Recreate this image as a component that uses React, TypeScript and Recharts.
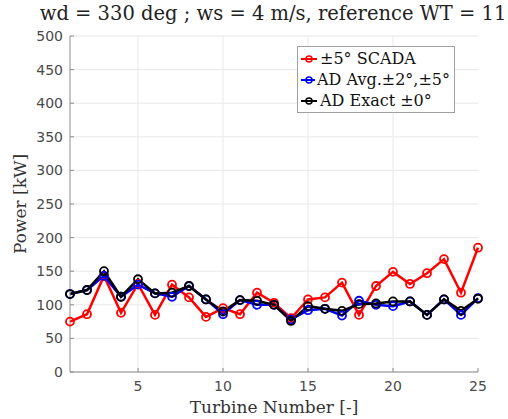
import { LineChart, Line, XAxis, YAxis, CartesianGrid, ReferenceLine, Label } from "recharts";

const turbines = [1, 2, 3, 4, 5, 6, 7, 8, 9, 10, 11, 12, 13, 14, 15, 16, 17, 18, 19, 20, 21, 22, 23, 24, 25];
const scadaPower = [75, 86, 143, 88, 131, 85, 130, 111, 82, 95, 86, 118, 103, 80, 108, 111, 133, 85, 128, 149, 131, 147, 168, 118, 185];
const adAvgPower = [116, 122, 143, 112, 130, 117, 112, 128, 108, 86, 107, 100, 100, 78, 92, 94, 84, 106, 100, 98, 105, 85, 108, 85, 110];
const adExactPower = [116, 122, 150, 112, 138, 117, 118, 128, 108, 90, 107, 106, 100, 76, 98, 94, 91, 101, 102, 105, 105, 85, 108, 91, 109];

const xTicks = [5, 10, 15, 20, 25];
const xGrid = [5, 10, 15, 20];
const yTicks = [0, 50, 100, 150, 200, 250, 300, 350, 400, 450, 500];

const series = [
  { key: "scada", name: "±5° SCADA", color: "#ff0000" },
  { key: "avg", name: "AD Avg.±2°,±5°", color: "#0000ff" },
  { key: "exact", name: "AD Exact ±0°", color: "#000000" },
];

const data = turbines.map((t, i) => ({
  turbine: t,
  scada: scadaPower[i],
  avg: adAvgPower[i],
  exact: adExactPower[i],
}));

const serif = "'DejaVu Serif', serif";
const sans = "'DejaVu Sans', sans-serif";
const axisGray = "#8c8c8c";
const gridGray = "#e8e8e8";

// tick labels with small inward tick marks
const YTick = (props: any) => {
  const { x, y, payload } = props;
  return (
    <g>
      <line x1={x + 7} x2={x + 11} y1={y} y2={y} stroke={axisGray} />
      <text x={x} y={y} dy={5} textAnchor="end" fontSize={14} fontFamily={sans} fill="#4a4a4a">
        {payload.value}
      </text>
    </g>
  );
};

const XTick = (props: any) => {
  const { x, y, payload } = props;
  return (
    <g>
      <line x1={x} x2={x} y1={y - 9} y2={y - 13} stroke={axisGray} />
      <text x={x} y={y} dy={10} textAnchor="middle" fontSize={14} fontFamily={sans} fill="#4a4a4a">
        {payload.value}
      </text>
    </g>
  );
};

const YLabel = (props: any) => {
  const { viewBox } = props;
  const cx = 20;
  const cy = viewBox.y + viewBox.height / 2;
  return (
    <text x={cx} y={cy} transform={`rotate(-90 ${cx} ${cy})`} textAnchor="middle" dominantBaseline="central" fontSize={17} fontFamily={serif} fill="#333">
      Power [kW]
    </text>
  );
};

const LegendBox = () => (
  <div
    style={{
      position: "absolute",
      left: 297,
      top: 46,
      width: 158,
      boxSizing: "border-box",
      background: "#fff",
      border: "1px solid #a0a0a0",
      padding: "1px 4px 1px 2px",
      fontFamily: serif,
      fontSize: 16,
      color: "#111",
    }}
  >
    {series.map((s) => (
      <div key={s.key} style={{ display: "flex", alignItems: "center", height: 21, whiteSpace: "nowrap" }}>
        <svg width={18} height={10} style={{ marginRight: 2 }}>
          <line x1={1} x2={17} y1={5} y2={5} stroke={s.color} strokeWidth={2} />
          <circle cx={9} cy={5} r={3} stroke={s.color} strokeWidth={1.5} fill="none" />
        </svg>
        <span>{s.name}</span>
      </div>
    ))}
  </div>
);

export default function App() {
  return (
    <div style={{ position: "absolute", left: 0, top: 0, width: 508, height: 419, background: "#fff" }}>
      <div style={{ position: "absolute", left: 23, top: 2, width: 500, textAlign: "center", fontFamily: serif, fontSize: 19.5, color: "#222", whiteSpace: "nowrap" }}>
        wd = 330 deg ; ws = 4 m/s, reference WT = 11
      </div>
      <LineChart width={508} height={419} data={data} margin={{ top: 36, right: 30, left: 0, bottom: 0 }}>
        <CartesianGrid vertical={false} stroke={gridGray} />
        {xGrid.map((v) => (
          <ReferenceLine key={v} x={v} stroke={gridGray} />
        ))}
        <XAxis
          dataKey="turbine"
          type="number"
          domain={[1, 25]}
          ticks={xTicks}
          height={47}
          tickSize={0}
          tickMargin={9}
          tick={<XTick />}
          stroke={axisGray}
        >
          <Label value="Turbine Number [-]" position="insideBottom" offset={6} fontSize={17} fontFamily={serif} fill="#333" />
        </XAxis>
        <YAxis
          domain={[0, 500]}
          ticks={yTicks}
          width={70}
          tickSize={0}
          tickMargin={7}
          tick={<YTick />}
          stroke={axisGray}
          interval={0}
        >
          <Label content={<YLabel />} />
        </YAxis>
        {series.map((s) => (
          <Line
            key={s.key}
            dataKey={s.key}
            name={s.name}
            stroke={s.color}
            strokeWidth={2.5}
            dot={{ r: 4, strokeWidth: 1.8, fill: "none" }}
            isAnimationActive={false}
          />
        ))}
      </LineChart>
      <LegendBox />
    </div>
  );
}
